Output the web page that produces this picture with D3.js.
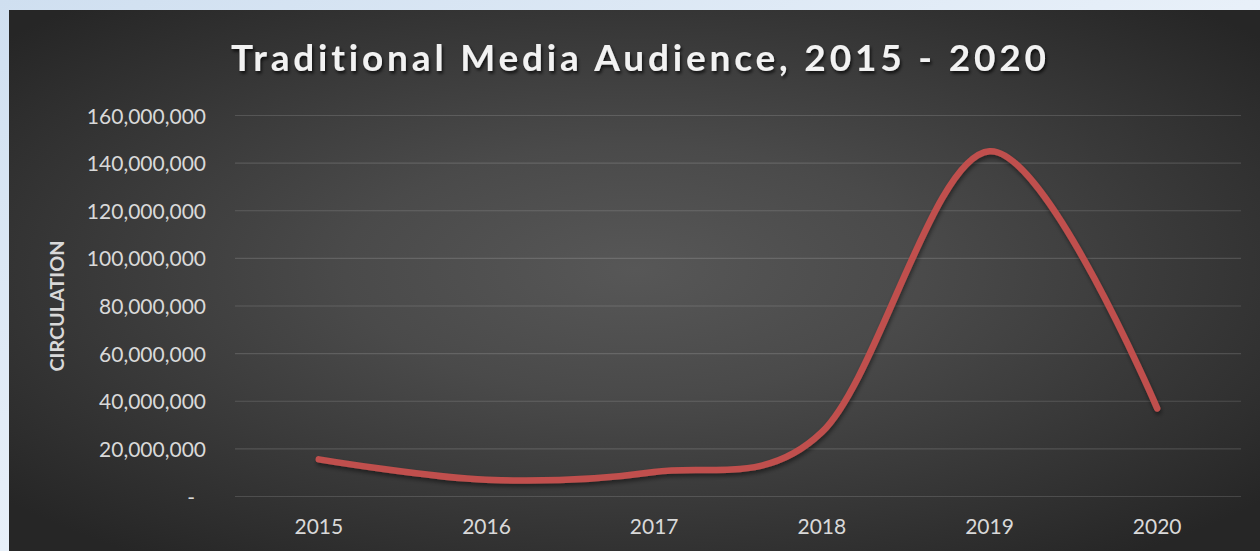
<!DOCTYPE html>
<html>
<head>
<meta charset="utf-8">
<script src="https://cdn.jsdelivr.net/npm/d3@7"></script>
<style>
  html, body { margin: 0; padding: 0; background: #dce8f4; }
  #chart { width: 1260px; height: 551px; }
  text { font-variant-ligatures: none; font-feature-settings: "liga" 0, "clig" 0; }
</style>
</head>
<body>
<div id="chart"></div>
<script>
const years = ["2015", "2016", "2017", "2018", "2019", "2020"]
const circulation = [15600000, 7000000, 10300000, 27000000, 145000000, 37000000]
const yTicks = [0, 20000000, 40000000, 60000000, 80000000, 100000000, 120000000, 140000000, 160000000]
const titleText = "Traditional Media Audience, 2015 - 2020"
const yLabel = "CIRCULATION"

const sizing = { width: 1260, height: 551 }
const panel = { left: 9, top: 10 }
const plot = { left: 235, right: 1241, top: 115.5, bot: 496.5 }

const svg = d3.select("#chart").append("svg")
    .attr("width", sizing.width)
    .attr("height", sizing.height)

const defs = svg.append("defs")

// light blue page behind the chart
const pageGrad = defs.append("linearGradient").attr("id", "page")
    .attr("x1", 0).attr("y1", 0).attr("x2", 1).attr("y2", 1)
pageGrad.append("stop").attr("offset", "0%").attr("stop-color", "#cfdff0")
pageGrad.append("stop").attr("offset", "50%").attr("stop-color", "#e8f0f9")
pageGrad.append("stop").attr("offset", "100%").attr("stop-color", "#d6e4f2")

const bgGrad = defs.append("radialGradient").attr("id", "bg")
    .attr("cx", "50%").attr("cy", "48%").attr("r", "66%")
bgGrad.append("stop").attr("offset", "0%").attr("stop-color", "#575757")
bgGrad.append("stop").attr("offset", "35%").attr("stop-color", "#4a4a4a")
bgGrad.append("stop").attr("offset", "100%").attr("stop-color", "#262626")

const textShadow = defs.append("filter").attr("id", "tshadow")
    .attr("x", "-5%").attr("y", "-30%").attr("width", "110%").attr("height", "160%")
textShadow.append("feDropShadow").attr("dx", 1.5).attr("dy", 2.5)
    .attr("stdDeviation", 1.5).attr("flood-color", "#000").attr("flood-opacity", 0.7)

const lineShadow = defs.append("filter").attr("id", "lshadow")
    .attr("x", "-5%").attr("y", "-10%").attr("width", "110%").attr("height", "130%")
lineShadow.append("feDropShadow").attr("dx", 1).attr("dy", 3)
    .attr("stdDeviation", 2).attr("flood-color", "#000").attr("flood-opacity", 0.45)

svg.append("rect")
    .attr("width", "100%")
    .attr("height", "100%")
    .attr("fill", "url(#page)")

svg.append("rect")
    .attr("x", panel.left)
    .attr("y", panel.top)
    .attr("width", sizing.width - panel.left)
    .attr("height", sizing.height - panel.top)
    .attr("fill", "url(#bg)")

let x = d3.scaleBand()
    .domain(years)
    .range([plot.left, plot.right])
    .padding(0)

let y = d3.scaleLinear()
    .domain([0, 160000000])
    .range([plot.bot, plot.top])

const fmt = d3.format(",")

// gridlines
svg.append("g").attr("id", "grid")
    .selectAll("line")
    .data(yTicks)
    .join("line")
    .attr("x1", plot.left)
    .attr("x2", plot.right)
    .attr("y1", d => y(d))
    .attr("y2", d => y(d))
    .attr("stroke", "#ffffff")
    .attr("stroke-opacity", 0.14)
    .attr("stroke-width", 1.2)

// y axis
const yGroup = svg.append("g").attr("id", "yGroup")
    .attr("transform", `translate(${plot.left},0)`)
    .call(d3.axisLeft(y).tickValues(yTicks).tickSize(0).tickPadding(29)
        .tickFormat(d => d === 0 ? "-" : fmt(d)))
yGroup.select(".domain").remove()
yGroup.selectAll("text")
    .attr("fill", "#d9d9d9")
    .attr("font-family", "Lato, 'Liberation Sans', sans-serif")
    .attr("font-size", 21)
    .attr("dy", "0.36em")
    .attr("dx", d => d === 0 ? -11 : 0)

// x axis
const xGroup = svg.append("g").attr("id", "xGroup")
    .attr("transform", `translate(0,${plot.bot})`)
    .call(d3.axisBottom(x).tickSize(0))
xGroup.select(".domain").remove()
xGroup.selectAll("text")
    .attr("fill", "#d9d9d9")
    .attr("font-family", "Lato, 'Liberation Sans', sans-serif")
    .attr("font-size", 21)
    .attr("y", 37.5)
    .attr("dy", 0)

// y label
svg.append("text")
    .text(yLabel)
    .attr("transform", "translate(64,306) rotate(-90)")
    .attr("text-anchor", "middle")
    .attr("fill", "#d9d9d9")
    .attr("font-family", "Lato, 'Liberation Sans', sans-serif")
    .attr("font-weight", "bold")
    .attr("font-size", 19)
    .attr("textLength", 131)
    .attr("lengthAdjust", "spacingAndGlyphs")

// title
svg.append("text")
    .text(titleText)
    .attr("x", 638.5)
    .attr("y", 71)
    .attr("text-anchor", "middle")
    .attr("fill", "#f2f2f2")
    .attr("font-family", "Lato, 'Liberation Sans', sans-serif")
    .attr("font-weight", "bold")
    .attr("font-size", 37)
    .attr("textLength", 815)
    .attr("lengthAdjust", "spacing")
    .attr("filter", "url(#tshadow)")

// series line
const data = years.map((yr, i) => ({ year: yr, value: circulation[i] }))

svg.append("path")
    .datum(data)
    .attr("d", d3.line()
        .x(d => x(d.year) + x.bandwidth() / 2)
        .y(d => y(d.value))
        .curve(d3.curveCardinal.tension(0)))
    .attr("fill", "none")
    .attr("stroke", "#c0504d")
    .attr("stroke-width", 6.5)
    .attr("stroke-linecap", "round")
    .attr("stroke-linejoin", "round")
    .attr("filter", "url(#lshadow)")
</script>
</body>
</html>
